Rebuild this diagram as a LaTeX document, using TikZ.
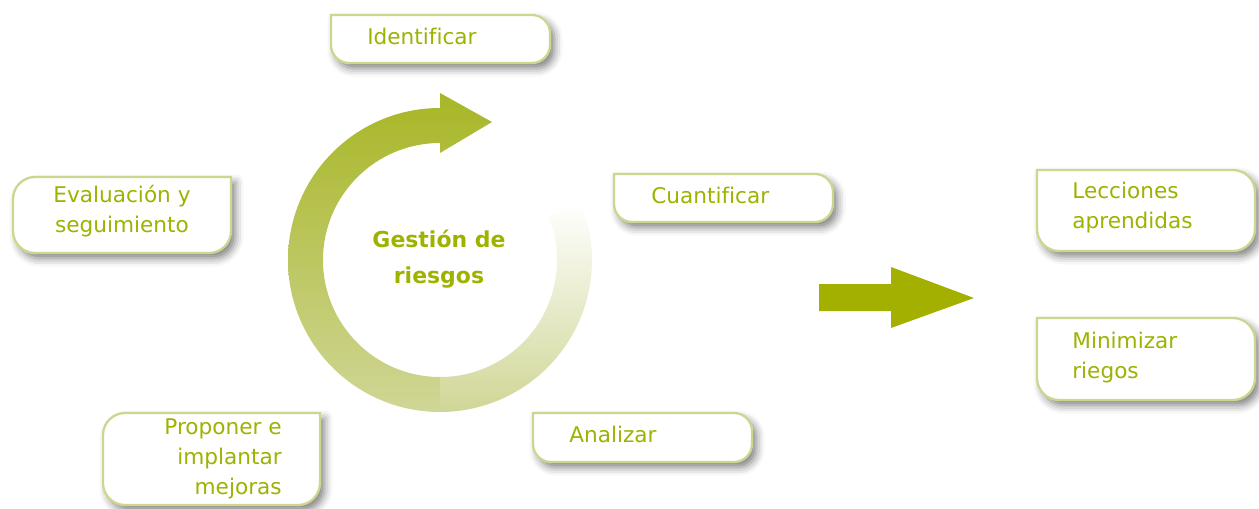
\documentclass[tikz,border=0pt]{standalone}
\usepackage{fontspec}
\newfontfamily\labelfont[Ligatures=NoCommon]{DejaVu Sans}
\usetikzlibrary{shadows.blur}
\definecolor{labelgreen}{RGB}{158,178,0}
\definecolor{boxline}{RGB}{206,213,142}
\definecolor{ringdark}{RGB}{168,182,38}
\definecolor{ringlight}{RGB}{208,214,150}
\definecolor{arrowgreen}{RGB}{163,176,0}

\begin{document}
\begin{tikzpicture}[x=0.02cm,y=-0.02cm,
  every node/.style={font=\labelfont\fontsize{12.3}{17}\selectfont, text=labelgreen, inner sep=0pt},
  stepbox/.style={draw=boxline, line width=1.3pt, fill=white,
    blur shadow={shadow xshift=0.09cm, shadow yshift=-0.11cm, shadow blur radius=0.16cm, shadow opacity=50}}]
  \useasboundingbox (0,0) rectangle (1259,508);

  % ring with arrow head
  \shade[top color=ringdark, bottom color=ringlight] (440,143) -- (440,153) -- (492,122) -- (440,93) -- (440,108)
    arc[start angle=-90, end angle=-270, radius=152] -- (440,377)
    arc[start angle=90, end angle=270, radius=117] -- cycle;
  \shade[top color=white, bottom color=ringlight] (440,412)
    arc[start angle=90, end angle=-22, radius=152] -- (548.5,216.2)
    arc[start angle=-22, end angle=90, radius=117] -- cycle;
  \node[anchor=base, align=center, font=\labelfont\bfseries\fontsize{12.5}{20.4}\selectfont] (gestion) at (439,283) {Gestión de\\riesgos};

  % steps of the cycle
  \draw[stepbox] (331,15) -- (532,15) arc[start angle=-90, end angle=0, radius=18] -- (550,45)
    arc[start angle=0, end angle=90, radius=18] -- (349,63) arc[start angle=90, end angle=180, radius=18] -- cycle;
  \draw[stepbox] (614,174) -- (815,174) arc[start angle=-90, end angle=0, radius=18] -- (833,204)
    arc[start angle=0, end angle=90, radius=18] -- (632,222) arc[start angle=90, end angle=180, radius=18] -- cycle;
  \draw[stepbox] (533,413) -- (734,413) arc[start angle=-90, end angle=0, radius=18] -- (752,444)
    arc[start angle=0, end angle=90, radius=18] -- (551,462) arc[start angle=90, end angle=180, radius=18] -- cycle;
  \draw[stepbox] (231,177) -- (231,231) arc[start angle=0, end angle=90, radius=22] -- (35,253)
    arc[start angle=90, end angle=180, radius=22] -- (13,199) arc[start angle=180, end angle=270, radius=22] -- cycle;
  \draw[stepbox] (320,413) -- (320,483) arc[start angle=0, end angle=90, radius=22] -- (125,505)
    arc[start angle=90, end angle=180, radius=22] -- (103,435) arc[start angle=180, end angle=270, radius=22] -- cycle;
  \node[anchor=base west] (identificar) at (367,44) {Identificar};
  \node[anchor=base west] (cuantificar) at (651,203) {Cuantificar};
  \node[anchor=base west] (analizar) at (569,442) {Analizar};
  \node[anchor=base, align=center] (evaluacion) at (122,232) {Evaluación y\\seguimiento};
  \node[anchor=base east, align=right] (proponer) at (282,494) {Proponer e\\implantar\\mejoras};

  % results
  \fill[arrowgreen] (819,284) -- (891,284) -- (891,267) -- (974,298) -- (891,328) -- (891,311) -- (819,311) -- cycle;
  \draw[stepbox] (1037,170) -- (1233,170) arc[start angle=-90, end angle=0, radius=22] -- (1255,229)
    arc[start angle=0, end angle=90, radius=22] -- (1059,251) arc[start angle=90, end angle=180, radius=22] -- cycle;
  \draw[stepbox] (1037,318) -- (1233,318) arc[start angle=-90, end angle=0, radius=22] -- (1255,378)
    arc[start angle=0, end angle=90, radius=22] -- (1059,400) arc[start angle=90, end angle=180, radius=22] -- cycle;
  \node[anchor=base west, align=left] (lecciones) at (1072,228) {Lecciones\\aprendidas};
  \node[anchor=base west, align=left] (minimizar) at (1072,378) {Minimizar\\riegos};
\end{tikzpicture}
\end{document}
